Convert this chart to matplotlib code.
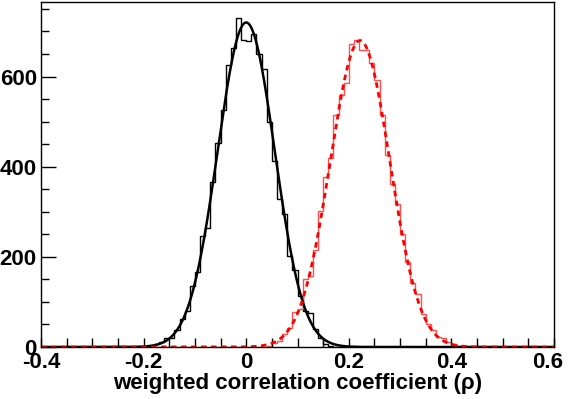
import numpy as np
import matplotlib
matplotlib.use("Agg")
import matplotlib.pyplot as plt
import matplotlib.transforms as mtransforms
from matplotlib.ticker import MultipleLocator

# histogram binning: 100 bins of 0.01 from -0.4 to 0.6
x_min, x_max, n_bins = -0.4, 0.6, 100

# black histogram (first non-empty bin starts at -0.21)
black_first = -0.21
black_counts = [1, 2, 3, 6, 10, 21, 20, 38, 62, 79,
                135, 166, 247, 263, 367, 453, 525, 626, 663, 729,
                681, 679, 694, 650, 617, 500, 413, 328, 295, 203,
                170, 113, 80, 76, 40, 20, 6, 3, 1]

# red histogram (first non-empty bin starts at 0.03)
red_first = 0.03
red_counts = [1, 3, 8, 14, 28, 42, 78, 84, 150, 158,
              216, 302, 378, 420, 515, 560, 586, 672, 681, 658,
              658, 630, 592, 515, 425, 361, 317, 251, 188, 141,
              118, 74, 52, 38, 23, 19, 12, 4, 2, 1]

# gaussian fit parameters: amplitude, mean, sigma
black_fit = (720, 0.0, 0.0555)
red_fit = (680, 0.222, 0.058)

x_ticks = [-0.4, -0.2, 0, 0.2, 0.4, 0.6]
x_ticklabels = ['-0.4', '-0.2', '0', '0.2', '0.4', '0.6']


def full_hist(first, counts):
    h = np.zeros(n_bins)
    i0 = int(round((first - x_min) / (x_max - x_min) * n_bins))
    h[i0:i0 + len(counts)] = counts
    return h


def gaus(x, p):
    a, m, s = p
    return a * np.exp(-0.5 * ((x - m) / s) ** 2)


edges = np.linspace(x_min, x_max, n_bins + 1)
h_black = full_hist(black_first, black_counts)
h_red = full_hist(red_first, red_counts)
xf = np.linspace(x_min, x_max, 1500)

plt.rcParams['font.family'] = ['Liberation Sans', 'DejaVu Sans']
plt.rcParams['font.weight'] = 'bold'

fig = plt.figure(figsize=(5.68, 3.99), dpi=100)
ax = fig.add_axes([41 / 568, 52 / 399, 513 / 568, 345 / 399])

ax.stairs(h_black, edges, color='black', lw=1.0)
ax.plot(xf, gaus(xf, black_fit), color='black', lw=1.8)
ax.stairs(h_red, edges, color='#ff5050', lw=1.0)
ax.plot(xf, gaus(xf, red_fit), color='red', lw=2.0, ls=(0, (2.0, 1.6)))

ax.set_xlim(x_min, x_max)
ymax = 1.05 * max(h_black.max(), h_red.max())
ax.set_ylim(0, ymax)

ax.xaxis.set_minor_locator(MultipleLocator(0.05))
ax.yaxis.set_major_locator(MultipleLocator(200))
ax.yaxis.set_minor_locator(MultipleLocator(50))
ax.set_xticks(x_ticks)
ax.set_xticklabels(x_ticklabels)

ax.tick_params(axis='x', which='both', direction='in', length=6.5, width=1,
               top=False, labelsize=16, pad=3.5)
ax.tick_params(axis='y', which='major', direction='in', length=11, width=1,
               right=False, labelsize=16, pad=3)
ax.tick_params(axis='y', which='minor', direction='in', length=6, width=1,
               right=False)
for lab in ax.get_xticklabels() + ax.get_yticklabels():
    lab.set_fontweight('bold')

# nudge the last x label so it stays inside the canvas
last = ax.get_xticklabels()[-1]
last.set_transform(last.get_transform() +
                   mtransforms.ScaledTranslation(-6 / 100, 0, fig.dpi_scale_trans))

for sp in ax.spines.values():
    sp.set_linewidth(1.0)

ax.set_xlabel('weighted correlation coefficient (ρ)', fontsize=16,
              fontweight='bold', labelpad=0)

fig.savefig('out.png', dpi=100)
